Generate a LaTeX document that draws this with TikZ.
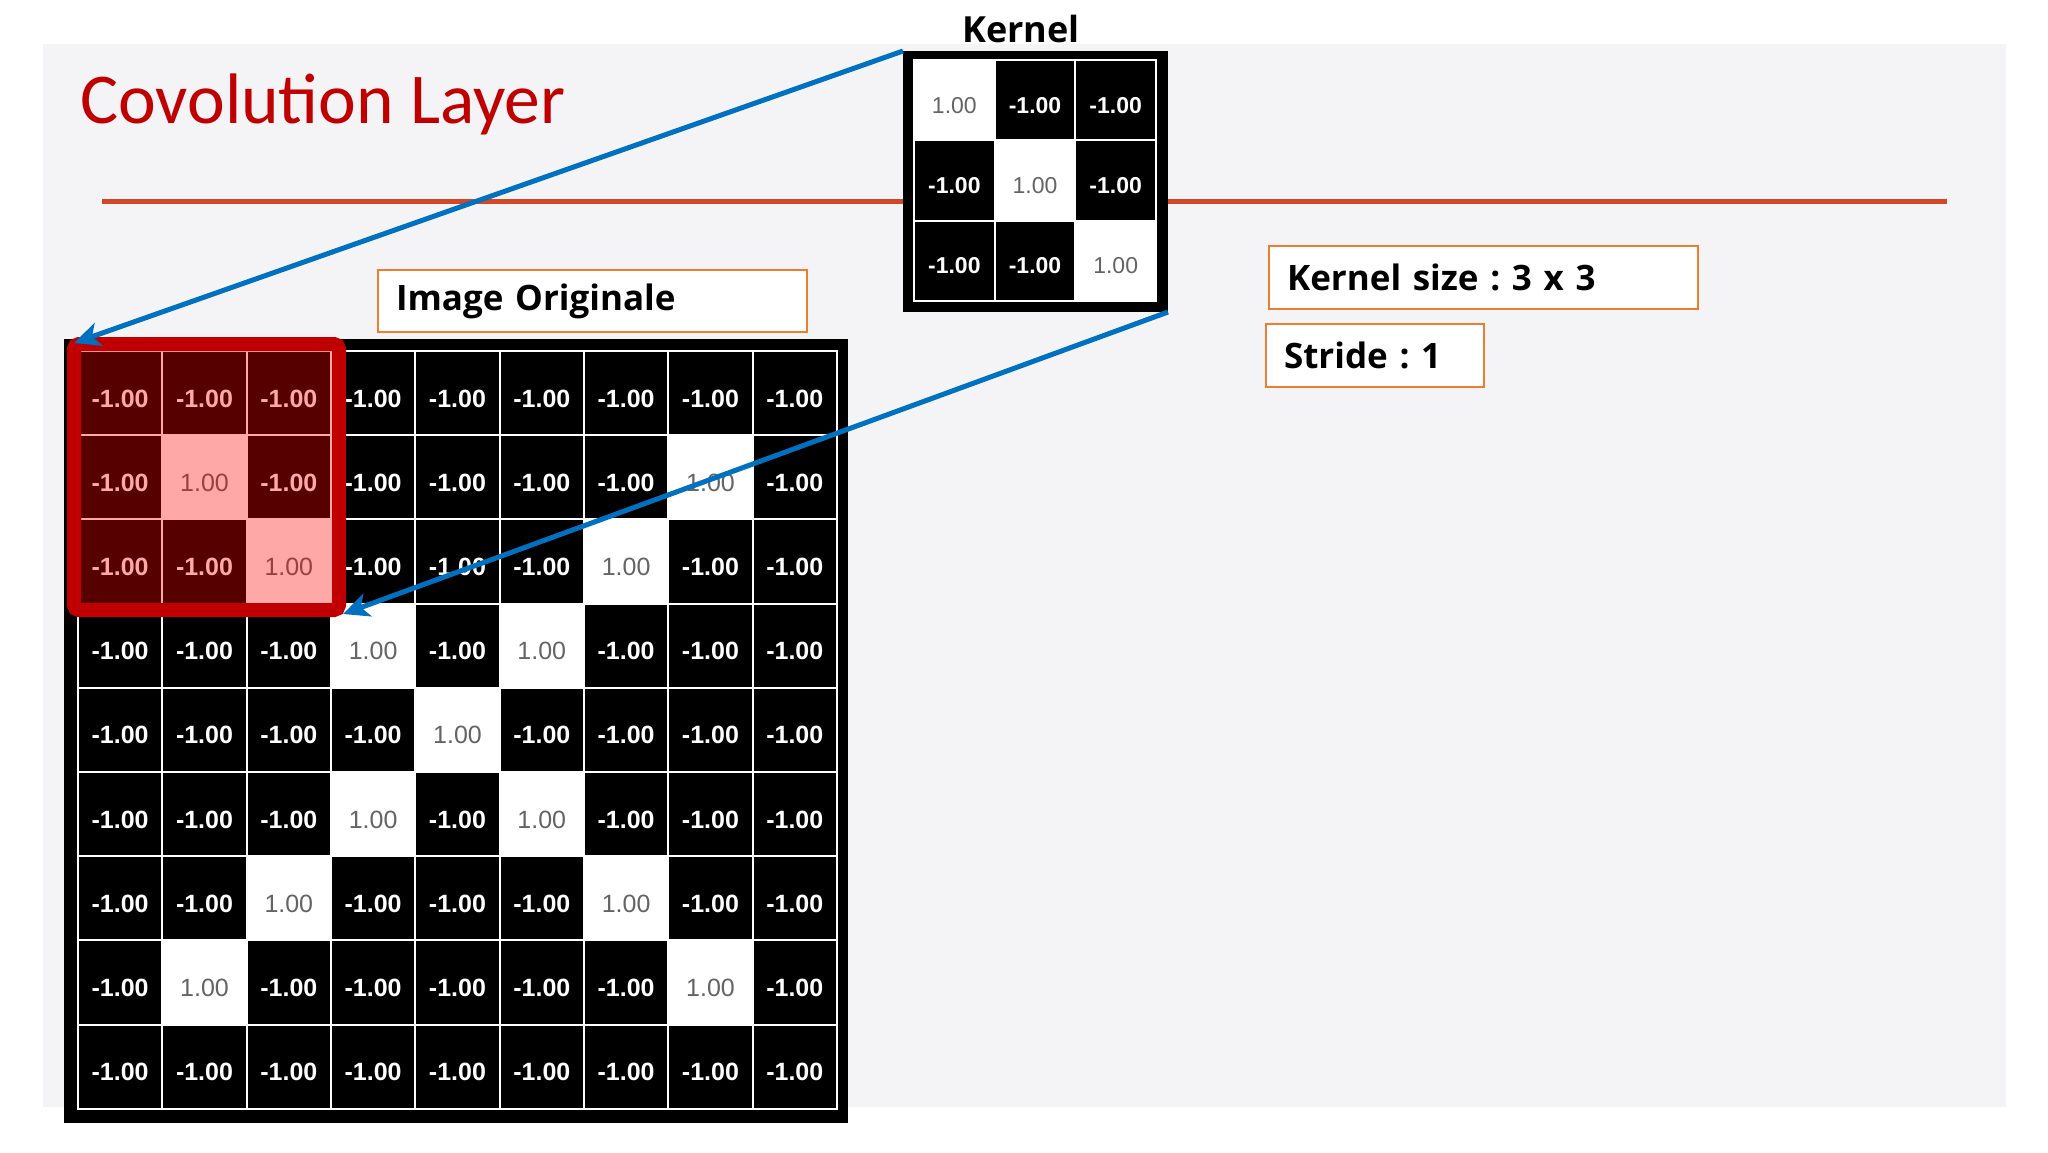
\documentclass[tikz,border=0pt]{standalone}
\usepackage{fontspec}
\setmainfont{Open Sans}
\newfontfamily\numfont{Liberation Sans}
\newfontfamily\titlefont{Carlito}
\newfontfamily\labfont{Open Sans}
\usetikzlibrary{arrows.meta}
\frenchspacing
\definecolor{panelbg}{RGB}{244,244,246}
\definecolor{rulecol}{RGB}{210,71,38}
\definecolor{titlered}{RGB}{192,0,0}
\definecolor{boxorange}{RGB}{237,125,49}
\definecolor{arrowblue}{RGB}{0,112,192}
\definecolor{posgray}{RGB}{100,100,100}
\tikzset{
  cellbase/.style={inner sep=0pt, outer sep=0pt, draw=white, line width=2pt},
  imgcell/.style={cellbase, minimum width=84.3pt, minimum height=84.2pt, text height=28pt, text depth=0pt},
  kcell/.style={cellbase, minimum width=80.6pt, minimum height=80.3pt, text height=26pt, text depth=0pt},
  negval/.style={fill=black, text=white, font=\numfont\bfseries\fontsize{#1}{#1}\selectfont},
  posval/.style={fill=white, text=posgray, font=\numfont\fontsize{#1}{#1}\selectfont},
  labelbox/.style={draw=boxorange, line width=2pt, fill=white, inner xsep=18pt, inner ysep=0pt, align=left, font=\labfont\bfseries\fontsize{35}{40}\selectfont, anchor=north west},
  arrowstyle/.style={draw=arrowblue, line width=5pt, -{Stealth[length=26pt, width=24pt, inset=7pt]}},
  rulestyle/.style={draw=rulecol, line width=5pt},
}
\begin{document}
\begin{tikzpicture}[x=1pt,y=-1pt]
\useasboundingbox (0,0) rectangle (2048,1152);
\fill[white] (0,0) rectangle (2048,1152);
\fill[panelbg] (43,44) rectangle (2006,1107);
% rule
\coordinate (ruleL) at (102,201);
\coordinate (ruleR) at (1947,201);
\draw[rulestyle] (ruleL) -- (ruleR);
% title
\node[anchor=base west, inner sep=0pt, text=titlered, font=\titlefont\fontsize{71.5}{80}\selectfont] (title) at (80,123) {Covolution Layer};
% kernel
\node[anchor=base, inner sep=0pt, font=\labfont\bfseries\fontsize{36}{40}\selectfont] (klabel) at (1021,42) {Kernel};
\node[fill=black, minimum width=265pt, minimum height=261pt, inner sep=0pt, outer sep=0pt] (kframe) at (1035.5,181.5) {};
\foreach \r in {0,1,2} {
  \foreach \c in {0,1,2} {
    \ifnum\r=\c
      \node[kcell, posval=23] (k-\r-\c) at ({914+80.67*(\c+0.5)},{60+80.33*(\r+0.5)}) {1.00};
    \else
      \node[kcell, negval=23] (k-\r-\c) at ({914+80.67*(\c+0.5)},{60+80.33*(\r+0.5)}) {-1.00};
    \fi
  }
}
% label boxes
\node[labelbox, text width=393pt, minimum height=62pt] (imgtitle) at (377,269) {Image Originale};
\node[labelbox, text width=393pt, minimum height=63pt] (ksize) at (1268,245) {Kernel size : 3 x 3};
\node[labelbox, text width=182pt, minimum height=63pt] (stride) at (1265,323) {Stride : 1};
% image grid
\node[fill=black, minimum width=784pt, minimum height=784pt, inner sep=0pt, outer sep=0pt] (imgframe) at (456,731) {};
\foreach \r in {0,...,8} {
  \foreach \c in {0,...,8} {
    \pgfmathtruncatemacro\isone{((\r>0)&&(\r<8)&&((\c==\r)||(\c==8-\r)))?1:0}
    \ifnum\isone=1
      \node[imgcell, posval=25] (i-\r-\c) at ({78+84.33*(\c+0.5)},{351+84.2*(\r+0.5)}) {1.00};
    \else
      \node[imgcell, negval=25] (i-\r-\c) at ({78+84.33*(\c+0.5)},{351+84.2*(\r+0.5)}) {-1.00};
    \fi
  }
}
% highlighted window
\fill[red, opacity=0.34] (78,351) rectangle (332,604);
\node[draw=titlered, line width=14pt, rounded corners=5pt, minimum width=265pt, minimum height=266pt, inner sep=0pt] (redbox) at (206.5,477) {};
% arrows
\draw[arrowstyle] (kframe.north west) -- ([shift={(7,6)}]redbox.north west);
\draw[arrowstyle] (kframe.south east) -- ([shift={(-3,-3)}]redbox.south east);
\end{tikzpicture}
\end{document}
